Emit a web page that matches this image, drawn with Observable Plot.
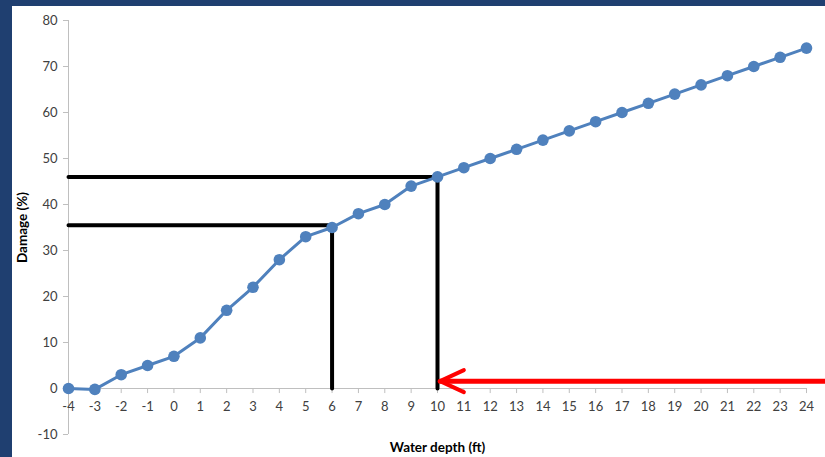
<!DOCTYPE html>
<html>
<head>
<meta charset="utf-8">
<script src="https://cdn.jsdelivr.net/npm/d3@7"></script>
<script src="https://cdn.jsdelivr.net/npm/@observablehq/plot@0.6"></script>
<style>
  html, body { margin: 0; padding: 0; width: 825px; height: 457px; overflow: hidden; background: #1f3f70; }
  #panel { position: absolute; left: 12px; top: 6px; width: 813px; height: 451px; background: #ffffff; }
  #chart { position: absolute; left: 0; top: 0; }
  #chart svg { background: transparent; overflow: hidden; }
</style>
</head>
<body>
<div id="panel"></div>
<div id="chart"></div>
<script>
const depth = [-4,-3,-2,-1,0,1,2,3,4,5,6,7,8,9,10,11,12,13,14,15,16,17,18,19,20,21,22,23,24];
const damage = [0,-0.2,3,5,7,11,17,22,28,33,35,38,40,44,46,48,50,52,54,56,58,60,62,64,66,68,70,72,74];
const xTicks = d3.range(-4, 25);
const yTicks = [-10,0,10,20,30,40,50,60,70,80];
const guideA = [{x: -4, y: 35.5}, {x: 6, y: 35.5}, {x: 6, y: 0}];
const guideB = [{x: -4, y: 46}, {x: 10, y: 46}, {x: 10, y: 0}];
const arrowLine = [{x: 10.1, y: 1.6}, {x: 26, y: 1.6}];
const arrowHead = [{x: 11.0, y: 4.0}, {x: 10.1, y: 1.6}, {x: 11.0, y: -0.8}];

const data = depth.map((d, i) => ({depth: d, damage: damage[i]}));
const gray = "#bfbfbf";
const textColor = "#404040";
const font = "Lato, 'Open Sans', 'Liberation Sans', sans-serif";

const plot = Plot.plot({
  width: 825,
  height: 457,
  marginLeft: 68,
  marginRight: 19,
  marginTop: 20,
  marginBottom: 23,
  style: {fontFamily: font, fontSize: "12px", color: textColor, background: "transparent"},
  x: {type: "linear", domain: [-4, 24], axis: null},
  y: {type: "linear", domain: [-10, 80], axis: null},
  marks: [
    // y axis
    Plot.ruleX([-4], {y1: -10, y2: 80, stroke: gray, strokeWidth: 1}),
    Plot.ruleY(yTicks, {y: d => d, x1: -4.19, x2: -4, stroke: gray, strokeWidth: 1}),
    Plot.text(yTicks, {x: -4, y: d => d, text: d => String(d), textAnchor: "end", dx: -11, fill: textColor, fontSize: 13}),
    // x axis at y = 0
    Plot.ruleY([0], {x1: -4, x2: 24, stroke: gray, strokeWidth: 1}),
    Plot.ruleX(xTicks, {x: d => d, y1: 0, y2: -1.1, stroke: gray, strokeWidth: 1}),
    Plot.text(xTicks, {x: d => d, y: 0, dy: 18, text: d => String(d), fill: textColor, fontSize: 13}),
    // axis titles
    Plot.text(["Water depth (ft)"], {x: 10, frameAnchor: "bottom", dy: 17, text: d => d, fontWeight: "bold", fill: "#000", fontSize: 13.5}),
    Plot.text(["Damage (%)"], {x: -4, y: 35, dx: -46, rotate: -90, textAnchor: "middle", text: d => d, fontWeight: "bold", fill: "#000", fontSize: 13.5}),
    // guide lines
    Plot.line(guideA, {x: "x", y: "y", stroke: "#000", strokeWidth: 4, strokeLinejoin: "miter"}),
    Plot.line(guideB, {x: "x", y: "y", stroke: "#000", strokeWidth: 4, strokeLinejoin: "miter"}),
    // series
    Plot.line(data, {x: "depth", y: "damage", stroke: "#4f81bd", strokeWidth: 3}),
    Plot.dot(data, {x: "depth", y: "damage", r: 5.8, fill: "#4f81bd", stroke: "none"}),
    // red arrow
    Plot.line(arrowLine, {x: "x", y: "y", stroke: "#ff0000", strokeWidth: 5, clip: false}),
    Plot.line(arrowHead, {x: "x", y: "y", stroke: "#ff0000", strokeWidth: 4, strokeLinecap: "round", strokeLinejoin: "miter"})
  ]
});
document.getElementById("chart").appendChild(plot);
</script>
</body>
</html>
